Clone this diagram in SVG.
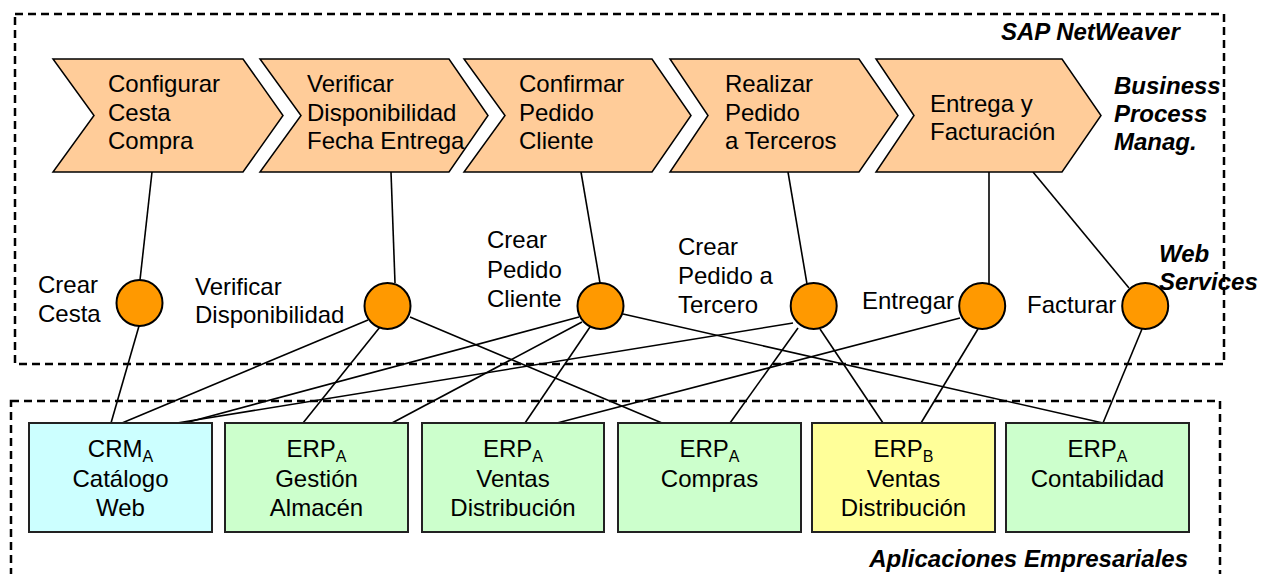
<svg xmlns="http://www.w3.org/2000/svg" width="1273" height="574" viewBox="0 0 1273 574">
  <style>
    .frame { fill: none; stroke: #000; stroke-width: 2.5; stroke-dasharray: 8 5; }
    .layer { font-family: "Liberation Sans", Arial, sans-serif; font-size: 24px; font-weight: bold; font-style: italic; fill: #000; }
    .txt { font-family: "Liberation Sans", Arial, sans-serif; font-size: 24px; fill: #000; }
    .step { fill: #FFCC99; stroke: #000; stroke-width: 1.5; stroke-linejoin: miter; }
    .svc { fill: #FF9900; stroke: #000; stroke-width: 2; }
    .app { stroke: #222; stroke-width: 2; }
    .crm { fill: #CCFFFF; }
    .erp { fill: #CCFFCC; }
    .erpb { fill: #FFFF99; }
    .link { stroke: #000; stroke-width: 1.6; fill: none; }
    .sub { font-size: 16px; }
  </style>

  <!-- Layer frames -->
  <rect class="frame" x="15" y="14" width="1209" height="350"/>
  <rect class="frame" x="11" y="401" width="1209" height="185"/>

  <!-- Layer captions -->
  <text class="layer" x="1001" y="40">SAP NetWeaver</text>
  <text class="layer" x="1114" y="94">Business</text>
  <text class="layer" x="1114" y="122">Process</text>
  <text class="layer" x="1114" y="150">Manag.</text>
  <text class="layer" x="1159" y="262">Web</text>
  <text class="layer" x="1159" y="290">Services</text>
  <text class="layer" x="1188" y="567" text-anchor="end">Aplicaciones Empresariales</text>

  <!-- Connectors -->
  <g id="connectors" class="link">
    <line x1="152" y1="172" x2="140" y2="280"/>
    <line x1="391" y1="172" x2="395" y2="283"/>
    <line x1="581" y1="172" x2="600" y2="283"/>
    <line x1="788" y1="172" x2="807" y2="284"/>
    <line x1="989" y1="172" x2="989" y2="284"/>
    <line x1="1033" y1="172" x2="1129" y2="288"/>

    <line x1="139" y1="326" x2="111" y2="423"/>
    <line x1="368" y1="320" x2="122" y2="423"/>
    <line x1="380" y1="327" x2="303" y2="423"/>
    <line x1="410" y1="317" x2="662" y2="423"/>
    <line x1="579" y1="317" x2="185" y2="423"/>
    <line x1="582" y1="322" x2="392" y2="423"/>
    <line x1="590" y1="327" x2="525" y2="423"/>
    <line x1="623" y1="314" x2="1103" y2="423"/>
    <line x1="793" y1="323" x2="177" y2="423"/>
    <line x1="798" y1="328" x2="730" y2="423"/>
    <line x1="820" y1="329" x2="883" y2="423"/>
    <line x1="960" y1="318" x2="557" y2="423"/>
    <line x1="978" y1="329" x2="921" y2="423"/>
    <line x1="1142" y1="329" x2="1103" y2="423"/>
  </g>

  <!-- Business process steps -->
  <g id="step-configurar">
    <polygon class="step" points="53,59 243,59 283,115.5 243,172 53,172 94,115.5"/>
    <text class="txt" x="108" y="92">Configurar</text>
    <text class="txt" x="108" y="121">Cesta</text>
    <text class="txt" x="108" y="149">Compra</text>
  </g>
  <g id="step-verificar">
    <polygon class="step" points="260,59 449,59 488,115.5 449,172 260,172 301,115.5"/>
    <text class="txt" x="307" y="92">Verificar</text>
    <text class="txt" x="307" y="121">Disponibilidad</text>
    <text class="txt" x="307" y="149">Fecha Entrega</text>
  </g>
  <g id="step-confirmar">
    <polygon class="step" points="464,59 652,59 691,115.5 652,172 464,172 505,115.5"/>
    <text class="txt" x="519" y="92">Confirmar</text>
    <text class="txt" x="519" y="121">Pedido</text>
    <text class="txt" x="519" y="149">Cliente</text>
  </g>
  <g id="step-realizar">
    <polygon class="step" points="670,59 859,59 898,115.5 859,172 670,172 708,115.5"/>
    <text class="txt" x="725" y="92">Realizar</text>
    <text class="txt" x="725" y="121">Pedido</text>
    <text class="txt" x="725" y="149">a Terceros</text>
  </g>
  <g id="step-entrega">
    <polygon class="step" points="876,59 1062,59 1101,115.5 1062,172 876,172 914,115.5"/>
    <text class="txt" x="930" y="112">Entrega y</text>
    <text class="txt" x="930" y="140">Facturación</text>
  </g>

  <!-- Web services -->
  <g id="ws-crear-cesta">
    <circle class="svc" cx="139.5" cy="303" r="23"/>
    <text class="txt" x="38" y="293">Crear</text>
    <text class="txt" x="38" y="322">Cesta</text>
  </g>
  <g id="ws-verificar">
    <circle class="svc" cx="387.5" cy="306" r="23"/>
    <text class="txt" x="195" y="295">Verificar</text>
    <text class="txt" x="195" y="323">Disponibilidad</text>
  </g>
  <g id="ws-crear-pedido-cliente">
    <circle class="svc" cx="600.5" cy="306" r="23"/>
    <text class="txt" x="487" y="248">Crear</text>
    <text class="txt" x="487" y="278">Pedido</text>
    <text class="txt" x="487" y="307">Cliente</text>
  </g>
  <g id="ws-crear-pedido-tercero">
    <circle class="svc" cx="813.7" cy="306" r="23"/>
    <text class="txt" x="678" y="255">Crear</text>
    <text class="txt" x="678" y="284">Pedido a</text>
    <text class="txt" x="678" y="313">Tercero</text>
  </g>
  <g id="ws-entregar">
    <circle class="svc" cx="982.2" cy="306" r="23"/>
    <text class="txt" x="862" y="309">Entregar</text>
  </g>
  <g id="ws-facturar">
    <circle class="svc" cx="1145.2" cy="306" r="23"/>
    <text class="txt" x="1027" y="313">Facturar</text>
  </g>

  <!-- Enterprise applications -->
  <g id="app-crm-catalogo">
    <rect class="app crm" x="29" y="423" width="183" height="109"/>
    <text class="txt" x="120.5" y="457" text-anchor="middle">CRM<tspan class="sub" dy="5">A</tspan></text>
    <text class="txt" x="120.5" y="487" text-anchor="middle">Catálogo</text>
    <text class="txt" x="120.5" y="516" text-anchor="middle">Web</text>
  </g>
  <g id="app-erp-almacen">
    <rect class="app erp" x="225" y="423" width="183" height="109"/>
    <text class="txt" x="316.5" y="457" text-anchor="middle">ERP<tspan class="sub" dy="5">A</tspan></text>
    <text class="txt" x="316.5" y="487" text-anchor="middle">Gestión</text>
    <text class="txt" x="316.5" y="516" text-anchor="middle">Almacén</text>
  </g>
  <g id="app-erp-ventas-a">
    <rect class="app erp" x="422" y="423" width="182" height="109"/>
    <text class="txt" x="513" y="457" text-anchor="middle">ERP<tspan class="sub" dy="5">A</tspan></text>
    <text class="txt" x="513" y="487" text-anchor="middle">Ventas</text>
    <text class="txt" x="513" y="516" text-anchor="middle">Distribución</text>
  </g>
  <g id="app-erp-compras">
    <rect class="app erp" x="618" y="423" width="183" height="109"/>
    <text class="txt" x="709.5" y="457" text-anchor="middle">ERP<tspan class="sub" dy="5">A</tspan></text>
    <text class="txt" x="709.5" y="487" text-anchor="middle">Compras</text>
  </g>
  <g id="app-erp-ventas-b">
    <rect class="app erpb" x="812" y="423" width="183" height="109"/>
    <text class="txt" x="903.5" y="457" text-anchor="middle">ERP<tspan class="sub" dy="5">B</tspan></text>
    <text class="txt" x="903.5" y="487" text-anchor="middle">Ventas</text>
    <text class="txt" x="903.5" y="516" text-anchor="middle">Distribución</text>
  </g>
  <g id="app-erp-contabilidad">
    <rect class="app erp" x="1006" y="423" width="183" height="109"/>
    <text class="txt" x="1097.5" y="457" text-anchor="middle">ERP<tspan class="sub" dy="5">A</tspan></text>
    <text class="txt" x="1097.5" y="487" text-anchor="middle">Contabilidad</text>
  </g>
</svg>
